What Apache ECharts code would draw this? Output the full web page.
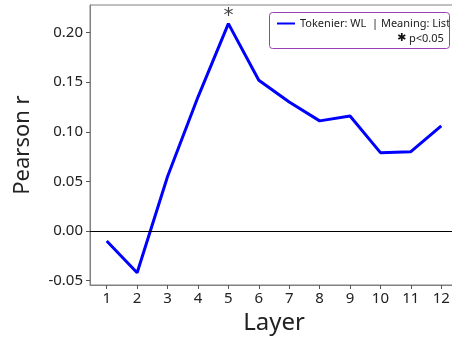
<!DOCTYPE html>
<html><head><meta charset="utf-8">
<script src="https://cdn.jsdelivr.net/npm/echarts@6/dist/echarts.min.js"></script>
<style>html,body{margin:0;padding:0;background:#fff}#c{width:452px;height:337px}</style>
</head><body><div id="c"></div>
<script>
const layers = [1,2,3,4,5,6,7,8,9,10,11,12];
const pearson = [-0.010,-0.042,0.055,0.135,0.209,0.152,0.130,0.111,0.116,0.079,0.080,0.106];
const yTicks = [-0.05,0.00,0.05,0.10,0.15,0.20];
const sigLayers = [5];
const seriesName = 'Tokenier: WL  | Meaning: List';
const font = 'Noto Sans';

const chart = echarts.init(document.getElementById('c'), null, {renderer:'canvas'});
chart.setOption({
  animation:false,
  textStyle:{fontFamily:font},
  grid:{left:90, top:5, right:-6, bottom:52, show:true, borderColor:'#808080', borderWidth:1, outerBoundsMode:'none', containLabel:false},
  xAxis:{type:'value', min:0.45, max:12.55,
    name:'Layer', nameLocation:'middle', nameGap:23,
    nameTextStyle:{fontSize:24, color:'#222', fontFamily:font},
    axisLine:{show:true, onZero:false, lineStyle:{color:'#808080'}},
    axisTick:{show:true, length:4, lineStyle:{color:'#555'}, customValues:layers},
    axisLabel:{fontSize:15, color:'#222', margin:6, customValues:layers, formatter:v=>String(v)},
    splitLine:{show:false}},
  yAxis:{type:'value', min:-0.0544, max:0.2278,
    name:'Pearson r', nameLocation:'middle', nameGap:56,
    nameTextStyle:{fontSize:22, color:'#222', fontFamily:font},
    axisLine:{show:true, lineStyle:{color:'#808080'}},
    axisTick:{show:true, length:4, lineStyle:{color:'#555'}, customValues:yTicks},
    axisLabel:{fontSize:15, color:'#222', margin:7, customValues:yTicks, formatter:v=>v.toFixed(2)},
    splitLine:{show:false}},
  legend:{show:true, left:272, top:13, itemWidth:18, itemHeight:2, itemGap:4,
    icon:'rect', textStyle:{fontSize:11, color:'#222', fontFamily:font},
    data:[{name:seriesName, icon:'rect'}]},
  graphic:[
    {type:'rect', shape:{x:269.5, y:12.5, width:180, height:36, r:3}, style:{fill:'none', stroke:'#9b3fb5', lineWidth:1}, z:100},
    {type:'text', x:397, y:33, style:{text:'\u2731', fontSize:11, fill:'#111', fontFamily:'DejaVu Sans'}, z:101},
    {type:'text', x:409, y:33, style:{text:'p<0.05', fontSize:11, fill:'#222', fontFamily:font}, z:101}
  ],
  series:[
    {name:seriesName, type:'line', data:layers.map((l,i)=>[l,pearson[i]]),
     showSymbol:false, lineStyle:{color:'#0000ff', width:3}, itemStyle:{color:'#0000ff'},
     markLine:{silent:true, symbol:'none', label:{show:false},
       lineStyle:{color:'#000', width:1, type:'solid'}, data:[{yAxis:0}]}},
    {name:'sig', type:'scatter', data:sigLayers.map(l=>[l,pearson[l-1]]),
     symbolSize:0, label:{show:true, position:'top', distance:-2, formatter:'*', fontSize:20, color:'#111', fontFamily:'DejaVu Sans'}}
  ]
});
</script></body></html>
